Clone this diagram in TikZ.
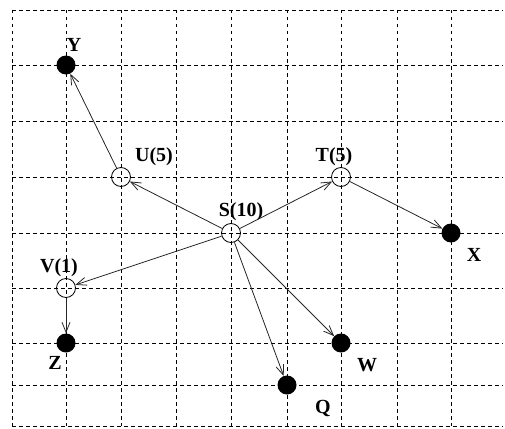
\documentclass[tikz,border=0pt]{standalone}
\usepackage{fontspec}
\setmainfont{Liberation Serif}
\usetikzlibrary{arrows.meta}
\begin{document}
\begin{tikzpicture}[x=1pt,y=-1pt,
  gridline/.style={draw=black, line width=0.9pt, dash pattern=on 3.5pt off 3.5pt},
  opennode/.style={circle, draw=black, line width=0.8pt, minimum size=19pt, inner sep=0pt},
  fullnode/.style={circle, fill=black, minimum size=19pt, inner sep=0pt},
  lbl/.style={font=\fontsize{20}{24}\selectfont\bfseries, inner sep=0pt},
  edge/.style={draw=black!85, line width=0.8pt, -{Straight Barb[length=10pt,width=8pt]}}
]
\useasboundingbox (0,0) rectangle (505,428);
% grid
\foreach \x in {12,66,121,176,231,287,341,397,451}
  \draw[gridline] (\x,10) -- (\x,426);
\foreach \y in {10,65,121,177,233,288,343,385,426}
  \draw[gridline] (12,\y) -- (503,\y);
% nodes
\node[fullnode] (Y) at (66,65) {};
\node[opennode] (U) at (121,177) {};
\node[opennode] (S) at (231,233) {};
\node[opennode] (T) at (341,177) {};
\node[fullnode] (X) at (451,233) {};
\node[opennode] (V) at (66,288) {};
\node[fullnode] (Z) at (66,343) {};
\node[fullnode] (W) at (341,343) {};
\node[fullnode] (Q) at (287,385) {};
% labels
\node[lbl] (lY) at (74,45) {Y};
\node[lbl] (lU) at (154,157) {U(5)};
\node[lbl] (lS) at (241,212) {S(10)};
\node[lbl] (lT) at (334,157) {T(5)};
\node[lbl] (lX) at (474,255) {X};
\node[lbl] (lV) at (59,268) {V(1)};
\node[lbl] (lZ) at (55,363) {Z};
\node[lbl] (lW) at (367,365) {W};
\node[lbl] (lQ) at (323,408) {Q};
% edges
\draw[edge] (S) -- (U);
\draw[edge] (U) -- (Y);
\draw[edge] (S) -- (T);
\draw[edge] (T) -- (X);
\draw[edge] (S) -- (V);
\draw[edge] (V) -- (Z);
\draw[edge] (S) -- (W);
\draw[edge] (S) -- (Q);
\end{tikzpicture}
\end{document}
